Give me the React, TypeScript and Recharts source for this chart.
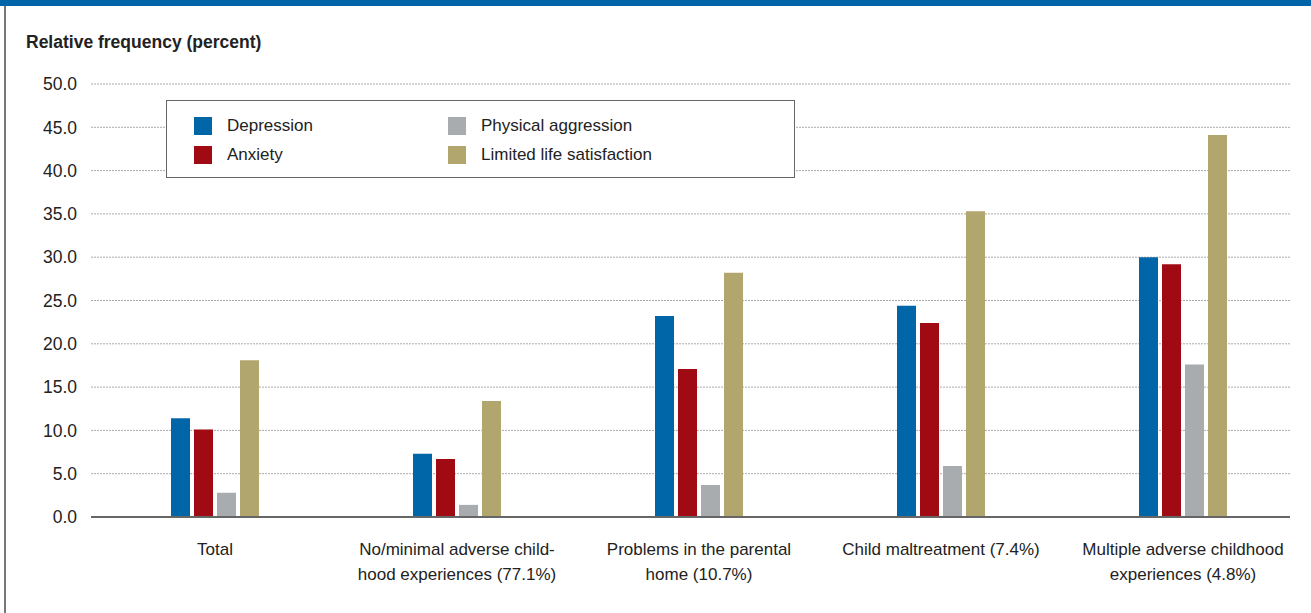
import { BarChart, Bar, XAxis, YAxis, CartesianGrid } from "recharts";

const categories = [
  "Total",
  "No/minimal adverse child-\nhood experiences (77.1%)",
  "Problems in the parental\nhome (10.7%)",
  "Child maltreatment (7.4%)",
  "Multiple adverse childhood\nexperiences (4.8%)",
];
const depression = [11.4, 7.3, 23.2, 24.4, 30.0];
const anxiety = [10.1, 6.7, 17.1, 22.4, 29.2];
const physicalAggression = [2.8, 1.4, 3.7, 5.9, 17.6];
const lifeSatisfaction = [18.1, 13.4, 28.2, 35.3, 44.1];
const yTicks = [0, 5, 10, 15, 20, 25, 30, 35, 40, 45, 50];

const series = [
  { key: "depression", name: "Depression", color: "#0066a8" },
  { key: "anxiety", name: "Anxiety", color: "#a00b13" },
  { key: "aggression", name: "Physical aggression", color: "#a8acaf" },
  { key: "satisfaction", name: "Limited life satisfaction", color: "#b2a66f" },
];

const data = categories.map((c, i) => ({
  category: c,
  depression: depression[i],
  anxiety: anxiety[i],
  aggression: physicalAggression[i],
  satisfaction: lifeSatisfaction[i],
}));

const font = "'Liberation Sans', Arial, Helvetica, sans-serif";

const CategoryTick = (props: any) => {
  const { x, y, payload } = props;
  const lines = String(payload.value).split("\n");
  return (
    <text x={x} y={y + 30} textAnchor="middle" fill="#222" fontSize={17} fontFamily={font}>
      {lines.map((l, i) => (
        <tspan key={i} x={x} dy={i === 0 ? 0 : 25}>
          {l}
        </tspan>
      ))}
    </text>
  );
};

// legend order in the box: left column Depression/Anxiety, right column the other two
const LegendBox = () => {
  const order = [series[0], series[2], series[1], series[3]];
  return (
    <div
      style={{
        position: "absolute",
        left: 166,
        top: 100,
        width: 629,
        height: 78,
        border: "1.5px solid #666",
        background: "#fff",
        boxSizing: "border-box",
        display: "grid",
        gridTemplateColumns: "254px 300px",
        gridAutoRows: "29px",
        paddingLeft: 27,
        paddingTop: 10,
        fontFamily: font,
        fontSize: 17,
        color: "#222",
      }}
    >
      {order.map((s) => (
        <div key={s.key} style={{ display: "flex", alignItems: "center" }}>
          <span style={{ width: 18, height: 18, background: s.color, marginRight: 15 }} />
          <span>{s.name}</span>
        </div>
      ))}
    </div>
  );
};

export default function App() {
  return (
    <div style={{ position: "absolute", left: 0, top: 0, width: 1311, height: 613, background: "#fff" }}>
      <div style={{ position: "absolute", left: 0, top: 0, width: 1311, height: 6, background: "#0064a8" }} />
      <div style={{ position: "absolute", left: 4, top: 6, width: 2, height: 607, background: "#777" }} />
      <div
        style={{
          position: "absolute",
          left: 26,
          top: 32,
          fontFamily: font,
          fontWeight: "bold",
          fontSize: 17.5,
          color: "#222",
        }}
      >
        Relative frequency (percent)
      </div>
      <BarChart
        width={1311}
        height={613}
        data={data}
        margin={{ top: 84, right: 21, bottom: 0, left: 0 }}
        barSize={19}
        barGap={4}
        style={{ position: "absolute", left: 0, top: 0 }}
      >
        <CartesianGrid vertical={false} stroke="#aaa" strokeDasharray="2 1" />
        <XAxis
          dataKey="category"
          interval={0}
          height={96}
          tickLine={false}
          axisLine={{ stroke: "#666", strokeWidth: 2 }}
          padding={{ left: 3, right: -14 }}
          tick={<CategoryTick />}
        />
        <YAxis
          width={91}
          domain={[0, 50]}
          ticks={yTicks}
          axisLine={false}
          tickLine={false}
          tickSize={0}
          tickMargin={14}
          tickFormatter={(v: number) => v.toFixed(1)}
          tick={{ fill: "#222", fontSize: 17.5, fontFamily: font }}
        />
        {series.map((s) => (
          <Bar key={s.key} dataKey={s.key} name={s.name} fill={s.color} isAnimationActive={false} />
        ))}
      </BarChart>
      <LegendBox />
    </div>
  );
}
